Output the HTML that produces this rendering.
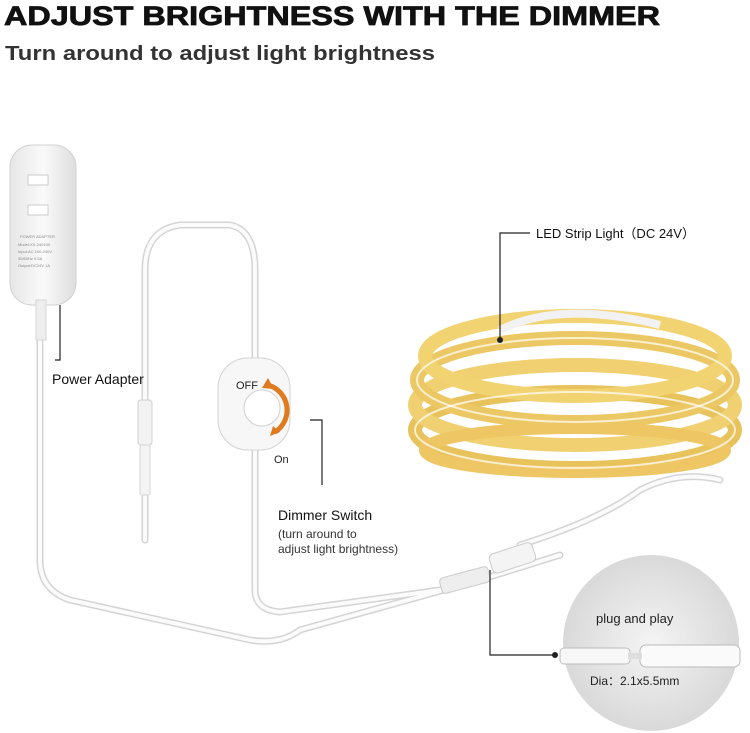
<!DOCTYPE html>
<html><head><meta charset="utf-8"><style>
html,body{margin:0;padding:0;background:#fff;width:750px;height:733px;overflow:hidden}
svg{display:block}
text{font-family:"Liberation Sans",sans-serif}
</style></head><body>
<svg width="750" height="733" viewBox="0 0 750 733" xmlns="http://www.w3.org/2000/svg">
<defs>
<radialGradient id="cg" cx="50%" cy="50%" r="50%"><stop offset="0" stop-color="#f4f4f4"/><stop offset="1" stop-color="#d9d9d9"/></radialGradient>
<linearGradient id="ag" x1="0" x2="1"><stop offset="0" stop-color="#e6e6e6"/><stop offset=".5" stop-color="#fafafa"/><stop offset="1" stop-color="#dedede"/></linearGradient>
</defs>
<text x="4" y="25" font-size="27" font-weight="bold" fill="#111" textLength="656" lengthAdjust="spacingAndGlyphs" stroke="#111" stroke-width="0.8">ADJUST BRIGHTNESS WITH THE DIMMER</text>
<text x="5" y="60" font-size="20" font-weight="bold" fill="#333" textLength="430" lengthAdjust="spacingAndGlyphs">Turn around to adjust light brightness</text>

<!-- cables -->
<g fill="none" stroke-linecap="round">
<g stroke="#d4d4d4" stroke-width="7">
<path d="M40 300 L40 560 Q40 590 70 600 L250 640 Q280 645 300 630 L480 580 L560 555"/>
<path d="M145 540 L145 270 Q145 230 180 225 L230 225 Q255 230 255 270 L255 360"/>
<path d="M255 450 L255 590 Q255 610 280 612 L440 590"/>
<path d="M520 545 Q600 520 640 490 Q680 470 720 480"/>
</g>
<g stroke="#fbfbfb" stroke-width="4">
<path d="M40 300 L40 560 Q40 590 70 600 L250 640 Q280 645 300 630 L480 580 L560 555"/>
<path d="M145 540 L145 270 Q145 230 180 225 L230 225 Q255 230 255 270 L255 360"/>
<path d="M255 450 L255 590 Q255 610 280 612 L440 590"/>
<path d="M520 545 Q600 520 640 490 Q680 470 720 480"/>
</g>
</g>
<rect x="138" y="400" width="14" height="45" rx="3" fill="#f2f2f2" stroke="#d0d0d0"/>
<rect x="140" y="445" width="10" height="50" rx="2" fill="#f4f4f4" stroke="#d6d6d6"/>

<!-- adapter -->
<rect x="10" y="145" width="66" height="160" rx="22" fill="url(#ag)" stroke="#d2d2d2"/>
<rect x="28" y="175" width="20" height="10" fill="#fff" stroke="#ccc"/>
<rect x="28" y="205" width="20" height="10" fill="#fff" stroke="#ccc"/>
<g font-size="4" fill="#888"><text x="20" y="238">POWER ADAPTER</text><text x="18" y="246">Model:XX-240100</text><text x="18" y="253">Input:AC 100-240V</text><text x="18" y="260">50/60Hz 0.5A</text><text x="18" y="267">Output:DC24V 1A</text></g>
<rect x="36" y="300" width="10" height="40" fill="#eee" stroke="#d6d6d6"/>

<!-- dimmer -->
<rect x="218" y="358" width="72" height="92" rx="30" fill="#f7f7f7" stroke="#d3d3d3"/>
<circle cx="262" cy="408" r="18" fill="#fff" stroke="#d0d0d0"/>
<path d="M268 385 A26 26 0 0 1 275 432" fill="none" stroke="#e07a1f" stroke-width="5"/>
<polygon points="268,378 262,388 274,389" fill="#e07a1f"/>
<polygon points="270,436 280,432 273,426" fill="#e07a1f"/>
<text x="236" y="389" font-size="11" fill="#222">OFF</text>
<text x="274" y="463" font-size="11" fill="#222">On</text>

<!-- LED coil -->
<g fill="none">
<ellipse cx="575" cy="430" rx="160" ry="38" stroke="#e8c25a" stroke-width="14"/>
<ellipse cx="575" cy="405" rx="160" ry="40" stroke="#f0d070" stroke-width="14"/>
<ellipse cx="575" cy="380" rx="158" ry="42" stroke="#ecc865" stroke-width="14"/>
<ellipse cx="575" cy="356" rx="150" ry="40" stroke="#f2d372" stroke-width="14"/>
<ellipse cx="575" cy="450" rx="150" ry="22" stroke="#eec664" stroke-width="12"/>
<ellipse cx="575" cy="430" rx="160" ry="38" stroke="#fff" stroke-width="2" opacity=".7"/>
<ellipse cx="575" cy="380" rx="158" ry="42" stroke="#fff" stroke-width="2" opacity=".7"/>
<path d="M500 330 Q560 300 660 325" stroke="#f2f2f2" stroke-width="8"/>
</g>

<!-- connector -->
<rect x="440" y="572" width="50" height="16" rx="4" fill="#eee" stroke="#ccc" transform="rotate(-15 465 580)"/>
<rect x="490" y="548" width="45" height="20" rx="5" fill="#f4f4f4" stroke="#ccc" transform="rotate(-18 512 558)"/>

<!-- labels -->
<g stroke="#222" stroke-width="1.2" fill="none">
<path d="M530 233 L500 233 L500 340"/>
<path d="M60 305 L60 360 L55 360"/>
<path d="M310 420 L322 420 L322 485"/>
<path d="M490 570 L490 655 L555 655"/>
</g>
<circle cx="500" cy="340" r="3" fill="#222"/>
<circle cx="555" cy="655" r="3" fill="#222"/>
<text x="536" y="238" font-size="13" fill="#111">LED Strip Light（DC 24V）</text>
<text x="52" y="384" font-size="14" fill="#111">Power Adapter</text>
<text x="278" y="520" font-size="14" fill="#111">Dimmer Switch</text>
<text x="278" y="538" font-size="12" fill="#333">(turn around to</text>
<text x="278" y="553" font-size="12" fill="#333">adjust light brightness)</text>

<!-- circle detail -->
<circle cx="651" cy="643" r="88" fill="url(#cg)"/>
<text x="596" y="623" font-size="13" fill="#222">plug and play</text>
<rect x="560" y="648" width="70" height="16" rx="4" fill="#f7f7f7" stroke="#bbb"/>
<rect x="640" y="645" width="100" height="22" rx="6" fill="#fafafa" stroke="#bbb"/>
<rect x="628" y="653" width="14" height="6" fill="#ddd"/>
<text x="590" y="685" font-size="12" fill="#222">Dia：2.1x5.5mm</text>
</svg>
</body></html>
